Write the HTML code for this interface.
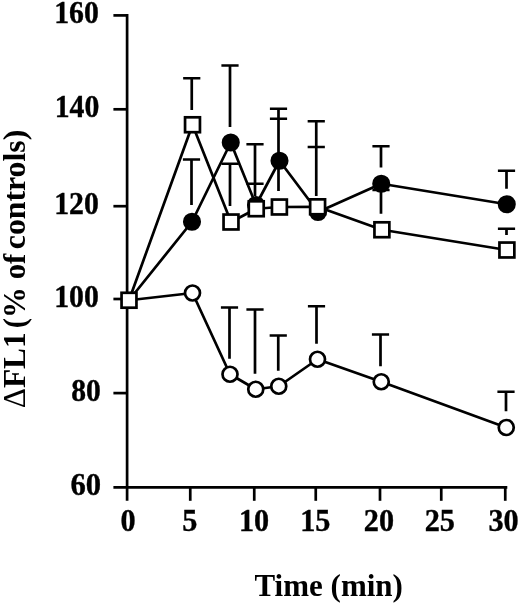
<!DOCTYPE html><html><head><meta charset="utf-8"><title>Figure</title><style>html,body{margin:0;padding:0;background:#fff}svg{display:block}text{font-family:"Liberation Serif","DejaVu Serif",serif;font-weight:bold;fill:#000}</style></head><body>
<svg width="520" height="605" viewBox="0 0 520 605">
<rect width="520" height="605" fill="#fff"/>
<g stroke="#000" stroke-width="2.7" fill="none" stroke-linecap="butt">
<path d="M127.1 14.0V500.8"/>
<path d="M113.4 487.3H507.3"/>
<path d="M113.4 15.4H127.1"/>
<path d="M113.4 109.3H127.1"/>
<path d="M113.4 206.2H127.1"/>
<path d="M113.4 299.0H127.1"/>
<path d="M113.4 393.1H127.1"/>
<path d="M190.25 487.3V500.8"/>
<path d="M254.25 487.3V500.8"/>
<path d="M315.75 487.3V500.8"/>
<path d="M380 487.3V500.8"/>
<path d="M441.25 487.3V500.8"/>
<path d="M505.25 487.3V500.8"/>
<path d="M191.75 78.25V110M183.15 78.25H200.35"/>
<path d="M191.5 159.5V205M182.9 159.5H200.1"/>
<path d="M230 65.5V127M221.4 65.5H238.6"/>
<path d="M230 163.75V206M221.4 163.75H238.6"/>
<path d="M255 144.25V196M246.4 144.25H263.6M246.4 183.75H263.6"/>
<path d="M278.5 108.75V191M269.9 108.75H287.1M269.9 118.75H287.1"/>
<path d="M316.25 121.25V196M307.65 121.25H324.85M307.65 147H324.85"/>
<path d="M381 146.25V167.5M372.4 146.25H389.6"/>
<path d="M381 190V213.75M372.4 190H389.6"/>
<path d="M506.5 170.75V188.75M497.9 170.75H515.1"/>
<path d="M506.5 228.75V235M497.9 228.75H515.1"/>
<path d="M229.5 307.5V358.75M220.9 307.5H238.1"/>
<path d="M255 309.5V373.75M246.4 309.5H263.6"/>
<path d="M278.25 335.5V370.75M269.65 335.5H286.85"/>
<path d="M316.5 306.25V343.75M307.9 306.25H325.1"/>
<path d="M380.5 334.5V366.25M371.9 334.5H389.1"/>
<path d="M506 391.75V411.25M497.4 391.75H514.6"/>
<path d="M129 300.25L192 221.75L230.75 142.5L256 205L279.5 160.75L318 212L381.25 183.75L506.75 204.25" stroke-linejoin="round"/>
<path d="M129 300.25L192.5 293L230 374.25L255.75 389.25L278.75 386.25L317.5 359.25L381.25 381.75L506.25 427.5" stroke-linejoin="round"/>
<path d="M129 300.25L192.5 124.75L231 222L256.25 208.75L279.4 207L317.6 206.8L381.9 229.75L506.9 250" stroke-linejoin="round"/>
</g>
<g stroke="#000" stroke-width="2.7">
<circle cx="192" cy="221.75" r="7.7" fill="#000"/>
<circle cx="230.75" cy="142.5" r="7.7" fill="#000"/>
<circle cx="256" cy="205" r="7.7" fill="#000"/>
<circle cx="279.5" cy="160.75" r="7.7" fill="#000"/>
<circle cx="318" cy="212" r="7.7" fill="#000"/>
<circle cx="381.25" cy="183.75" r="7.7" fill="#000"/>
<circle cx="506.75" cy="204.25" r="7.7" fill="#000"/>
<circle cx="192.5" cy="293" r="7.5" fill="#fff"/>
<circle cx="230" cy="374.25" r="7.5" fill="#fff"/>
<circle cx="255.75" cy="389.25" r="7.5" fill="#fff"/>
<circle cx="278.75" cy="386.25" r="7.5" fill="#fff"/>
<circle cx="317.5" cy="359.25" r="7.5" fill="#fff"/>
<circle cx="381.25" cy="381.75" r="7.5" fill="#fff"/>
<circle cx="506.25" cy="427.5" r="7.5" fill="#fff"/>
<rect x="121.55" y="292.8" width="14.9" height="14.9" fill="#fff"/>
<rect x="185.05" y="117.3" width="14.9" height="14.9" fill="#fff"/>
<rect x="223.55" y="214.55" width="14.9" height="14.9" fill="#fff"/>
<rect x="248.8" y="201.3" width="14.9" height="14.9" fill="#fff"/>
<rect x="271.95" y="199.55" width="14.9" height="14.9" fill="#fff"/>
<rect x="310.15000000000003" y="199.35000000000002" width="14.9" height="14.9" fill="#fff"/>
<rect x="374.45" y="222.3" width="14.9" height="14.9" fill="#fff"/>
<rect x="499.45" y="242.55" width="14.9" height="14.9" fill="#fff"/>
</g>
<g font-size="31.6" text-anchor="end" stroke="#000" stroke-width="0.4">
<text x="98.8" y="23.0" textLength="44.6" lengthAdjust="spacingAndGlyphs">160</text>
<text x="99.3" y="116.9" textLength="44.6" lengthAdjust="spacingAndGlyphs">140</text>
<text x="98.8" y="213.8" textLength="44.6" lengthAdjust="spacingAndGlyphs">120</text>
<text x="98.8" y="306.75" textLength="44.6" lengthAdjust="spacingAndGlyphs">100</text>
<text x="100.9" y="400.7" textLength="29.6" lengthAdjust="spacingAndGlyphs">80</text>
<text x="101.1" y="495.1" textLength="30.6" lengthAdjust="spacingAndGlyphs">60</text>
</g>
<g font-size="31.6" text-anchor="middle" stroke="#000" stroke-width="0.4">
<text x="128" y="531" textLength="15.1" lengthAdjust="spacingAndGlyphs">0</text>
<text x="189.75" y="531" textLength="15.1" lengthAdjust="spacingAndGlyphs">5</text>
<text x="254" y="531" textLength="30.2" lengthAdjust="spacingAndGlyphs">10</text>
<text x="315.25" y="531" textLength="30.2" lengthAdjust="spacingAndGlyphs">15</text>
<text x="378.9" y="531" textLength="30.2" lengthAdjust="spacingAndGlyphs">20</text>
<text x="439.8" y="531" textLength="30.2" lengthAdjust="spacingAndGlyphs">25</text>
<text x="503.5" y="531" textLength="30.2" lengthAdjust="spacingAndGlyphs">30</text>
</g>
<text x="328.7" y="595.8" font-size="31" text-anchor="middle">Time (min)</text>
<g font-size="30.8" lengthAdjust="spacingAndGlyphs">
<text transform="translate(25.2 408.2) rotate(-90)" textLength="75.9" lengthAdjust="spacingAndGlyphs"><tspan font-weight="normal">Δ</tspan>FL1</text>
<text transform="translate(25.2 328.2) rotate(-90)" textLength="74.6" lengthAdjust="spacingAndGlyphs">(% of</text>
<text transform="translate(25.2 129.7) rotate(-90)" text-anchor="end" textLength="119.5" lengthAdjust="spacingAndGlyphs">controls)</text>
</g>
</svg></body></html>
